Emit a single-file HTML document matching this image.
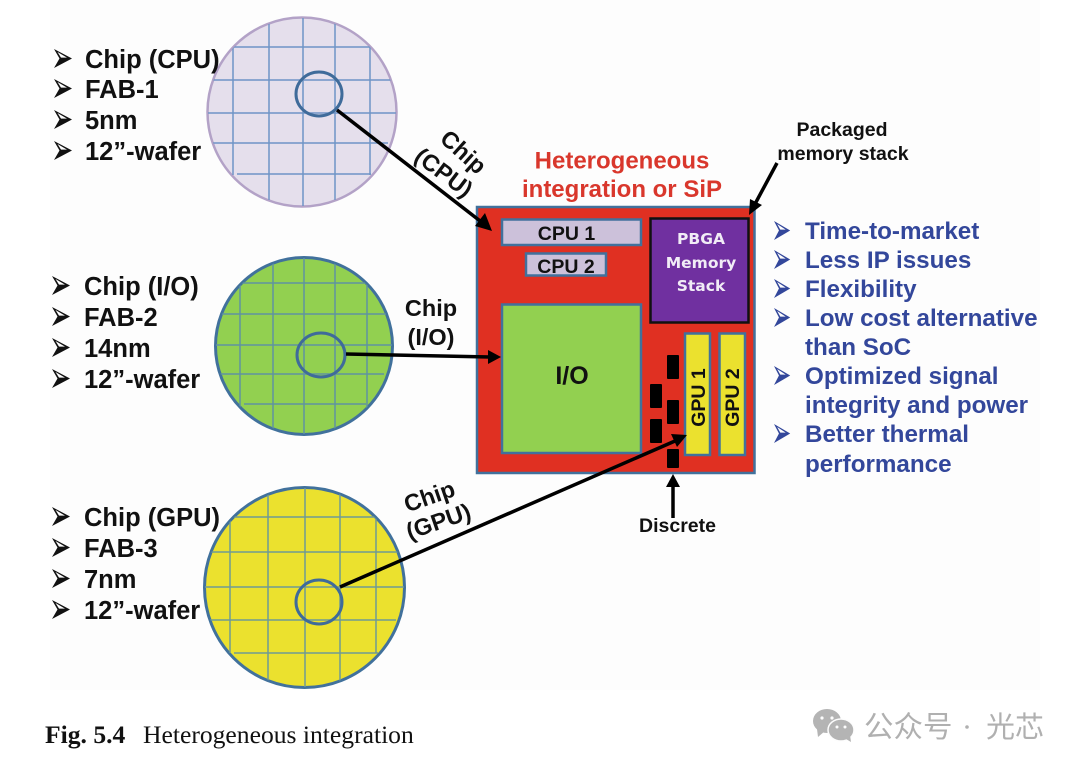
<!DOCTYPE html>
<html><head><meta charset="utf-8"><style>
html,body{margin:0;padding:0;background:#fff}
svg{display:block}
text{font-family:"Liberation Sans",sans-serif}
.b{font-weight:bold;font-size:25.500px;fill:#111}
.u{font-weight:bold;font-size:24.200px;fill:#33479b}
.g{stroke-width:1.500;fill:none}
</style></head><body>
<svg width="1080" height="770" viewBox="0 0 1080 770" xmlns="http://www.w3.org/2000/svg">
<defs>
<clipPath id="c1"><circle cx="302" cy="112" r="94"/></clipPath>
<clipPath id="c2"><circle cx="304" cy="346" r="88"/></clipPath>
<clipPath id="c3"><circle cx="304.500" cy="587.500" r="99.500"/></clipPath>
<path id="bl" d="M0 -1 L18 8.500 L0 18 L5.500 8.500 Z M3.500 2 L7 7.600 L13 7.600 Z" fill-rule="evenodd"/>
</defs>
<rect width="1080" height="770" fill="#fff"/>
<rect x="50" y="0" width="990" height="690" fill="#fdfdfd"/>

<!-- wafer 1 -->
<circle cx="302" cy="112" r="94.500" fill="#e5dfec" stroke="#b3a2c7" stroke-width="2.500"/>
<g class="g" stroke="#6f94c6" clip-path="url(#c1)">
<path d="M233 47V175M269 17V200M303 17V206M335 17V200M370 47V175"/>
<path d="M233 47H370M208 80H397M208 113H397M211 143H388M237 174H371"/>
</g>
<ellipse cx="319" cy="94" rx="23" ry="22" fill="none" stroke="#3f6b9a" stroke-width="3"/>

<!-- wafer 2 -->
<circle cx="304" cy="346" r="88.500" fill="#92d050" stroke="#41719c" stroke-width="3"/>
<g class="g" stroke="#5f93a0" clip-path="url(#c2)">
<path d="M240 283V411M273 255V436M304 255V436M335 255V436M367 283V411"/>
<path d="M240 283H367M220 314H388M215 345H393M217 374H384M244 404H366"/>
</g>
<ellipse cx="321" cy="355" rx="24" ry="22" fill="none" stroke="#3f6b9a" stroke-width="3"/>

<!-- wafer 3 -->
<circle cx="304.500" cy="587.500" r="100" fill="#ebe12e" stroke="#41719c" stroke-width="3"/>
<g class="g" stroke="#6f9a94" clip-path="url(#c3)">
<path d="M230 517V653M268 488V687M305 488V687M340 488V687M376 517V653"/>
<path d="M230 517H376M204 552H405M204 587H405M204 620H396M234 653H378"/>
</g>
<ellipse cx="319" cy="602" rx="23" ry="22" fill="none" stroke="#3f6b9a" stroke-width="3"/>

<!-- package -->
<rect x="477" y="207" width="277.500" height="266" fill="#e03022" stroke="#41719c" stroke-width="2.500"/>
<rect x="502" y="219.500" width="139" height="25.500" fill="#ccc1da" stroke="#41719c" stroke-width="2.500"/>
<rect x="526" y="253.500" width="80" height="22" fill="#ccc1da" stroke="#41719c" stroke-width="2.500"/>
<rect x="650.500" y="218.500" width="98" height="104" fill="#7030a0" stroke="#111" stroke-width="2.500"/>
<rect x="502" y="304.500" width="139" height="148.500" fill="#92d050" stroke="#41719c" stroke-width="2.500"/>
<rect x="685" y="333.500" width="25" height="121.500" fill="#ebe12e" stroke="#41719c" stroke-width="2.500"/>
<rect x="719.500" y="333.500" width="25.500" height="121.500" fill="#ebe12e" stroke="#41719c" stroke-width="2.500"/>
<g fill="#000">
<rect x="667" y="355" width="12" height="24" rx="1"/>
<rect x="650" y="384" width="12" height="24" rx="1"/>
<rect x="667" y="400" width="12" height="24" rx="1"/>
<rect x="650" y="419" width="12" height="24" rx="1"/>
<rect x="667" y="449" width="12" height="19" rx="1"/>
</g>

<!-- labels in package -->
<g font-weight="bold" fill="#111" text-anchor="middle">
<text x="566.500" y="240" font-size="19.500">CPU 1</text>
<text x="566" y="273" font-size="19.500">CPU 2</text>
<text x="572" y="384" font-size="25">I/O</text>
<text transform="translate(705,397.500) rotate(-90)" font-size="19.500">GPU 1</text>
<text transform="translate(739,397.500) rotate(-90)" font-size="19.500">GPU 2</text>
</g>
<g fill="#f1ecf6" text-anchor="middle" font-weight="bold">
<text x="701" y="244" style="font-family:'DejaVu Sans',sans-serif;font-size:15.500px">PBGA</text>
<text x="701" y="268" style="font-family:'DejaVu Sans',sans-serif;font-size:15.500px">Memory</text>
<text x="701" y="291" style="font-family:'DejaVu Sans',sans-serif;font-size:15.500px">Stack</text>
</g>

<!-- arrows -->
<g stroke="#000" stroke-width="3.500" fill="#000">
<line x1="337" y1="110" x2="484" y2="224"/>
<line x1="346" y1="354" x2="490" y2="357"/>
<line x1="340" y1="587" x2="675" y2="441"/>
<line x1="673" y1="518" x2="673" y2="484"/>
<line x1="777" y1="163" x2="755" y2="204"/>
</g>
<polygon points="492,231 475,226 485,213" fill="#000"/>
<polygon points="501,357 488,350 488,364" fill="#000"/>
<polygon points="687,435 671,434 677,447" fill="#000"/>
<polygon points="673,474 666,487 680,487" fill="#000"/>
<polygon points="749,215 750,199 762,205" fill="#000"/>

<!-- heading -->
<g font-weight="bold" fill="#d9372c" font-size="24" text-anchor="middle">
<text x="622" y="168.500">Heterogeneous</text>
<text x="622" y="197">integration or SiP</text>
</g>
<g font-weight="bold" fill="#111" font-size="19.500" text-anchor="middle">
<text x="842" y="136">Packaged</text>
<text x="843" y="160">memory stack</text>
<text x="677.500" y="532">Discrete</text>
</g>

<!-- connector labels -->
<g font-weight="bold" fill="#111" font-size="23.500" text-anchor="middle">
<text transform="translate(458,158) rotate(42)">Chip</text>
<text transform="translate(439,179) rotate(37)">(CPU)</text>
<text x="431" y="316">Chip</text>
<text x="431" y="345">(I/O)</text>
<text transform="translate(432,504) rotate(-19)">Chip</text>
<text transform="translate(441,529) rotate(-19)">(GPU)</text>
</g>

<!-- left lists -->
<g fill="#111">
<use href="#bl" x="54" y="50"/><use href="#bl" x="54" y="80"/><use href="#bl" x="54" y="111"/><use href="#bl" x="54" y="142"/>
<use href="#bl" x="52" y="277"/><use href="#bl" x="52" y="308"/><use href="#bl" x="52" y="339"/><use href="#bl" x="52" y="370"/>
<use href="#bl" x="52" y="508"/><use href="#bl" x="52" y="539"/><use href="#bl" x="52" y="570"/><use href="#bl" x="52" y="601"/>
</g>
<text class="b" x="85" y="68">Chip (CPU)</text>
<text class="b" x="85" y="98">FAB-1</text>
<text class="b" x="85" y="129">5nm</text>
<text class="b" x="85" y="160">12”-wafer</text>
<text class="b" x="84" y="295">Chip (I/O)</text>
<text class="b" x="84" y="326">FAB-2</text>
<text class="b" x="84" y="357">14nm</text>
<text class="b" x="84" y="388">12”-wafer</text>
<text class="b" x="84" y="526">Chip (GPU)</text>
<text class="b" x="84" y="557">FAB-3</text>
<text class="b" x="84" y="588">7nm</text>
<text class="b" x="84" y="619">12”-wafer</text>

<!-- right list -->
<g fill="#33479b">
<use href="#bl" x="774" y="222" transform="translate(77.400,0) scale(0.9,1)"/>
<use href="#bl" x="774" y="251" transform="translate(77.400,0) scale(0.9,1)"/>
<use href="#bl" x="774" y="280" transform="translate(77.400,0) scale(0.9,1)"/>
<use href="#bl" x="774" y="309" transform="translate(77.400,0) scale(0.9,1)"/>
<use href="#bl" x="774" y="367" transform="translate(77.400,0) scale(0.9,1)"/>
<use href="#bl" x="774" y="425" transform="translate(77.400,0) scale(0.9,1)"/>
</g>
<text class="u" x="805" y="239">Time-to-market</text>
<text class="u" x="805" y="268">Less IP issues</text>
<text class="u" x="805" y="297">Flexibility</text>
<text class="u" x="805" y="326">Low cost alternative</text>
<text class="u" x="805" y="355">than SoC</text>
<text class="u" x="805" y="384">Optimized signal</text>
<text class="u" x="805" y="413">integrity and power</text>
<text class="u" x="805" y="442">Better thermal</text>
<text class="u" x="805" y="472">performance</text>

<!-- caption -->
<text x="45" y="743" style="font-family:'Liberation Serif',serif;font-weight:bold;font-size:25.600px" fill="#111">Fig. 5.4</text>
<text x="143" y="743" style="font-family:'Liberation Serif',serif;font-size:25.600px" fill="#111">Heterogeneous integration</text>

<!-- watermark -->
<g fill="#b4b4b4">
<ellipse cx="827" cy="721" rx="14" ry="12"/>
<polygon points="817,729 818,737 825,731"/>
<ellipse cx="841" cy="730" rx="13" ry="11" stroke="#fdfdfd" stroke-width="1.500"/>
<polygon points="846,739 851,742 850,735"/>
</g>
<g fill="#fdfdfd"><circle cx="822" cy="718" r="1.600"/><circle cx="832" cy="718" r="1.600"/><circle cx="837" cy="727" r="1.500"/><circle cx="845" cy="727" r="1.500"/></g>
<g fill="#b0b0b0" style="font-family:'Noto Sans CJK SC',sans-serif;font-size:29.500px">
<text x="864" y="737" style="font-family:'Noto Sans CJK SC',sans-serif;font-size:29.500px">公众号</text>
<text x="986" y="737" style="font-family:'Noto Sans CJK SC',sans-serif;font-size:29px">光芯</text>
</g>
<circle cx="967" cy="727" r="1.800" fill="#b0b0b0"/>
</svg>
</body></html>
